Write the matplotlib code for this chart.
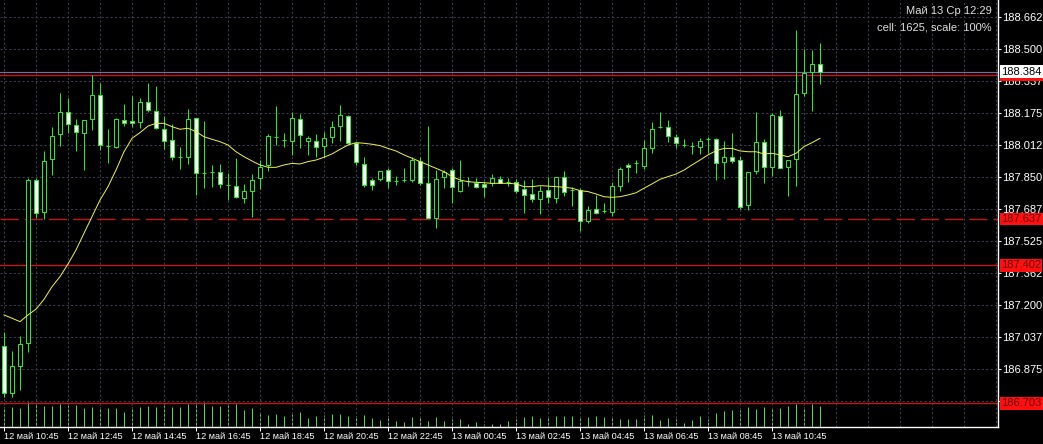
import numpy as np
import matplotlib
matplotlib.use("Agg")
import matplotlib.pyplot as plt
import matplotlib.transforms as mtransforms

plt.rcParams['font.family'] = ['Liberation Sans', 'DejaVu Sans']

# ---------------- data ----------------
opens = [186.994, 186.757, 186.892, 187.010, 187.835, 187.674, 187.940, 188.066, 188.178, 188.114,
         188.071, 188.142, 188.266, 188.007, 188.004, 188.137, 188.132, 188.130, 188.229, 188.186,
         188.092, 188.037, 187.950, 187.950, 188.147, 187.872, 187.874, 187.874, 187.809, 187.804,
         187.742, 187.781, 187.843, 187.911, 188.051, 188.037, 188.034, 188.142, 188.034, 188.032,
         188.009, 188.051, 188.110, 188.159, 188.021, 187.914, 187.835, 187.838, 187.885, 187.831,
         187.835, 187.835, 187.931, 187.821, 187.641, 187.852, 187.885, 187.780, 187.831, 187.821,
         187.815, 187.818, 187.838, 187.826, 187.826, 187.788, 187.762, 187.737, 187.784, 187.742,
         187.848, 187.784, 187.784, 187.627, 187.686, 187.679, 187.674, 187.804, 187.911, 187.922,
         187.907, 187.995, 188.102, 188.102, 188.054, 188.012, 188.009, 188.000, 188.042, 188.041,
         187.925, 187.950, 187.936, 187.708, 187.882, 188.026, 187.899, 188.161, 187.899, 187.940,
         188.274, 188.381, 188.423]
highs = [187.066, 186.968, 187.044, 187.846, 187.846, 187.982, 188.102, 188.277, 188.252, 188.142,
         188.137, 188.367, 188.325, 188.092, 188.147, 188.220, 188.261, 188.252, 188.328, 188.311,
         188.159, 188.117, 188.001, 188.193, 188.147, 188.134, 187.911, 187.916, 187.869, 187.945,
         187.813, 187.864, 187.936, 188.068, 188.210, 188.075, 188.178, 188.168, 188.058, 188.068,
         188.077, 188.134, 188.215, 188.166, 188.029, 187.953, 187.846, 187.882, 187.894, 187.855,
         187.894, 187.950, 187.950, 188.108, 187.885, 187.885, 187.894, 187.936, 187.852, 187.843,
         187.831, 187.864, 187.855, 187.843, 187.838, 187.835, 187.838, 187.804, 187.852, 187.852,
         187.880, 187.798, 187.793, 187.703, 187.759, 187.717, 187.826, 187.899, 187.922, 187.936,
         188.037, 188.130, 188.181, 188.139, 188.066, 188.041, 188.029, 188.046, 188.054, 188.046,
         188.032, 188.071, 187.956, 187.874, 188.181, 188.042, 188.173, 188.190, 187.936, 188.595,
         188.497, 188.494, 188.531]
lows = [186.735, 186.734, 186.770, 186.965, 187.641, 187.636, 187.860, 188.007, 188.074, 187.983,
        187.885, 188.088, 187.987, 187.922, 187.995, 188.110, 188.105, 188.097, 188.181, 188.093,
        187.990, 187.936, 187.889, 187.914, 187.759, 187.793, 187.801, 187.796, 187.733, 187.742,
        187.717, 187.649, 187.788, 187.882, 188.012, 188.004, 187.962, 187.999, 187.962, 187.953,
        187.953, 188.021, 188.034, 188.016, 187.911, 187.798, 187.784, 187.831, 187.796, 187.809,
        187.826, 187.826, 187.809, 187.641, 187.590, 187.793, 187.717, 187.776, 187.804, 187.793,
        187.750, 187.804, 187.818, 187.804, 187.767, 187.669, 187.725, 187.662, 187.720, 187.720,
        187.754, 187.703, 187.578, 187.618, 187.661, 187.666, 187.652, 187.780, 187.826, 187.872,
        187.889, 187.973, 188.097, 188.029, 187.995, 188.004, 187.965, 187.967, 187.970, 187.835,
        187.840, 187.919, 187.686, 187.683, 187.865, 187.818, 187.855, 187.894, 187.755, 187.806,
        188.260, 188.186, 188.320]
closes = [186.757, 186.892, 187.002, 187.835, 187.669, 187.931, 188.058, 188.178, 188.117, 188.077,
          188.137, 188.266, 188.012, 188.007, 188.142, 188.122, 188.122, 188.229, 188.190, 188.097,
          188.034, 187.953, 187.950, 188.142, 187.869, 187.872, 187.874, 187.813, 187.809, 187.747,
          187.779, 187.835, 187.899, 188.058, 188.051, 188.037, 188.147, 188.061, 188.046, 188.004,
          188.046, 188.102, 188.164, 188.021, 187.925, 187.808, 187.808, 187.879, 187.831, 187.831,
          187.835, 187.936, 187.818, 187.641, 187.838, 187.877, 187.798, 187.831, 187.831, 187.798,
          187.798, 187.843, 187.821, 187.826, 187.780, 187.760, 187.740, 187.780, 187.750, 187.848,
          187.776, 187.784, 187.627, 187.683, 187.666, 187.679, 187.804, 187.889, 187.899, 187.922,
          187.995, 188.092, 188.102, 188.058, 188.021, 188.012, 188.009, 188.032, 188.042, 187.919,
          187.950, 187.933, 187.700, 187.874, 188.026, 187.902, 188.164, 187.894, 187.936, 188.271,
          188.376, 188.423, 188.384]
ma_values = [187.151, 187.134, 187.117, 187.151, 187.180, 187.230, 187.294, 187.345, 187.409, 187.480,
             187.565, 187.649, 187.733, 187.801, 187.885, 187.978, 188.046, 188.075, 188.108, 188.122,
             188.122, 188.105, 188.092, 188.097, 188.080, 188.054, 188.041, 188.029, 188.012, 187.978,
             187.953, 187.931, 187.911, 187.899, 187.899, 187.911, 187.919, 187.916, 187.928, 187.936,
             187.950, 187.967, 187.990, 188.012, 188.024, 188.021, 188.016, 188.009, 187.995, 187.982,
             187.962, 187.945, 187.928, 187.911, 187.894, 187.877, 187.852, 187.835, 187.826, 187.823,
             187.821, 187.818, 187.818, 187.818, 187.815, 187.801, 187.801, 187.806, 187.804, 187.801,
             187.798, 187.793, 187.781, 187.776, 187.764, 187.750, 187.747, 187.750, 187.759, 187.770,
             187.793, 187.815, 187.838, 187.852, 187.865, 187.885, 187.911, 187.936, 187.962, 187.983,
             187.995, 187.995, 187.982, 187.978, 187.978, 187.967, 187.970, 187.962, 187.953, 187.970,
             188.004, 188.024, 188.046]
volumes = [60, 60, 55, 75, 70, 62, 62, 68, 65, 65, 55, 58, 58, 55, 55, 45, 58, 60, 62, 60,
           65, 60, 60, 68, 75, 75, 62, 62, 65, 68, 50, 55, 45, 35, 38, 32, 38, 43, 25, 32,
           35, 38, 38, 32, 32, 35, 25, 20, 32, 16, 15, 28, 28, 18, 28, 16, 23, 23, 8, 13,
           8, 8, 8, 16, 22, 28, 32, 25, 30, 32, 32, 32, 30, 28, 32, 28, 30, 22, 22, 22,
           35, 35, 20, 25, 22, 12, 20, 32, 22, 42, 48, 50, 50, 60, 52, 60, 55, 55, 62, 68,
           58, 68, 62]
time_labels = ["12 май 10:45", "12 май 12:45", "12 май 14:45", "12 май 16:45", "12 май 18:45",
               "12 май 20:45", "12 май 22:45", "13 май 00:45", "13 май 02:45", "13 май 04:45",
               "13 май 06:45", "13 май 08:45", "13 май 10:45"]
price_tick_labels = ["188.662", "188.500", "188.337", "188.175", "188.012", "187.850", "187.687",
                     "187.525", "187.362", "187.200", "187.037", "186.875", "186.712"]
price_ticks = [188.662, 188.4996, 188.3371, 188.1747, 188.0122, 187.8498, 187.6873,
               187.5249, 187.3624, 187.2000, 187.0375, 186.8751, 186.7126]
bid_price = 188.384
level_top = 188.367
level_dashed = 187.637
level_mid = 187.402
level_low = 186.703
header_line1 = "Май 13 Ср 12:29"
header_line2 = "cell: 1625, scale: 100%"

# ---------------- figure ----------------
W, H = 1043, 444
fig = plt.figure(figsize=(W / 100, H / 100), dpi=100, facecolor='black')
ax_left, ax_right = 0.0, 997.5
ax_top, ax_bot = 0.0, 426.7
ax = fig.add_axes([ax_left / W, (H - ax_bot) / H, (ax_right - ax_left) / W, (ax_bot - ax_top) / H])

n = len(opens)
idx = np.arange(n)
px = 0.72  # one pixel in points
x_min, x_max = -0.5, (ax_right - 4) / 8.0

# volumes on their own scale at the bottom (drawn behind the candles)
ax2 = ax.twinx()
ax2.set_ylim(0, 1280)
ax2.vlines(idx, 0, volumes, color='#5ad25a', lw=px)
ax2.set_yticks([])
for s in ax2.spines.values():
    s.set_visible(False)
ax2.set_zorder(1)
ax.set_zorder(2)
ax2.patch.set_facecolor('black')
ax2.patch.set_visible(True)
ax.patch.set_visible(False)

ax.set_xlim(x_min, x_max)
ax2.set_xlim(x_min, x_max)
ax.set_ylim(186.5845, 188.747)

# ticks and grid
ax.yaxis.tick_right()
ax.set_yticks(price_ticks)
ax.set_yticklabels(price_tick_labels)
ax.set_xticks(np.arange(0, n, 8))
ax.set_xticklabels(time_labels)
ax.set_xticks(np.arange(0, x_max, 4), minor=True)
grid_kw = dict(color='#3b3b52', linestyle=(0, (2.2, 2.2)), linewidth=px)
ax.grid(axis='y', which='major', **grid_kw)
ax.grid(axis='x', which='both', **grid_kw)
ax.set_axisbelow(True)

for s in ['top', 'left']:
    ax.spines[s].set_visible(False)
for s in ['right', 'bottom']:
    ax.spines[s].set_color('white')
    ax.spines[s].set_linewidth(1.0)
ax.tick_params(axis='y', which='major', left=False, right=True, labelleft=False, labelright=True,
               colors='white', length=3 * px, width=px, pad=1.5, labelsize=8, labelcolor='white')
ax.tick_params(axis='x', which='major', colors='white', length=4 * px, width=px, pad=1,
               labelsize=6.6, labelcolor='white')
ax.tick_params(axis='x', which='minor', length=0)
for lbl in ax.get_xticklabels():
    lbl.set_ha('left')

# horizontal levels
red = '#c41818'
ax.axhline(level_top, color=red, lw=1.4 * px, zorder=1.5)
ax.axhline(bid_price, color='#7d6a9c', lw=1.2 * px, zorder=1.6)
ax.axhline(level_dashed, color=red, lw=1.4 * px, linestyle=(0, (13, 4.3)), zorder=1.5)
ax.axhline(level_mid, color=red, lw=1.4 * px, zorder=1.5)
ax.axhline(level_low, color=red, lw=1.4 * px, zorder=1.5)

# candles
lime = '#2ee62e'
o = np.array(opens); c = np.array(closes)
ax.vlines(idx, lows, highs, color=lime, lw=px, zorder=3)
bull = c >= o
body_bottom = np.minimum(o, c)
body_h = np.abs(c - o)
ax.bar(idx[bull], body_h[bull], bottom=body_bottom[bull], width=0.5,
       facecolor='black', edgecolor=lime, linewidth=px, zorder=4)
ax.bar(idx[~bull], body_h[~bull], bottom=body_bottom[~bull], width=0.5,
       facecolor='white', edgecolor=lime, linewidth=px, zorder=4)

# moving average
ax.plot(idx, ma_values, color='#eeee44', lw=1.0 * px, zorder=5)

# right-side price labels
tr = mtransforms.blended_transform_factory(ax.transAxes, ax.transData)
xl = 1 + 3.5 / (ax_right - ax_left)
def price_label(y, text, fc, tc, z):
    ax.text(xl, y, text, transform=tr, ha='left', va='center', fontsize=8, color=tc,
            bbox=dict(boxstyle='square,pad=0.12', fc=fc, ec='none'), zorder=z, clip_on=False)

price_label(level_top, f"{level_top:.3f}", '#ff1010', '#6a0000', 6)
price_label(bid_price, f"{bid_price:.3f}", 'white', 'black', 7)
price_label(level_dashed, f"{level_dashed:.3f}", '#ff1010', '#6a0000', 6)
price_label(level_mid, f"{level_mid:.3f}", '#ff1010', '#6a0000', 6)
price_label(level_low, f"{level_low:.3f}", '#ff1010', '#6a0000', 6)

# header text
fig.text(992 / W, 1 - 11 / H, header_line1, ha='right', va='center', fontsize=8, color='#e0e0e0')
fig.text(992 / W, 1 - 27 / H, header_line2, ha='right', va='center', fontsize=8, color='#e0e0e0')

fig.savefig('out.png', dpi=100, facecolor='black')
